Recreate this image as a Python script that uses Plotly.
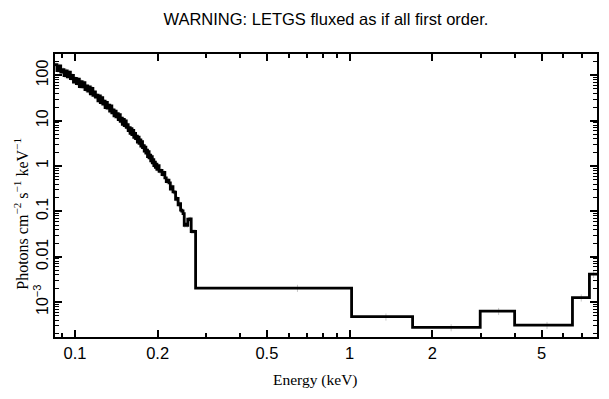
import math
import plotly.graph_objects as go

# Low-energy LETGS bins (keV edges) and fluxes (photons cm^-2 s^-1 keV^-1)
low_edges = [0.0845, 0.0860, 0.0875, 0.08875, 0.0900, 0.09125, 0.0925, 0.09375, 0.0950, 0.09625,
             0.0975, 0.09875, 0.1000, 0.10125, 0.1025, 0.10375, 0.1050, 0.10625, 0.1075, 0.10875,
             0.1100, 0.11125, 0.1125, 0.11375, 0.1150, 0.11625, 0.1175, 0.11875, 0.1200, 0.12125,
             0.1225, 0.12375, 0.1250, 0.12625, 0.1275, 0.12875, 0.1300, 0.13125, 0.1325, 0.13375,
             0.1350, 0.13625, 0.1375, 0.13875, 0.1400, 0.14125, 0.1425, 0.14375, 0.1450, 0.14625,
             0.1475, 0.14875, 0.1500, 0.15125, 0.1525, 0.15375, 0.1550, 0.15625, 0.1575, 0.15875,
             0.1600, 0.16125, 0.1625, 0.16375, 0.1650, 0.16625, 0.1675, 0.16875, 0.1700, 0.17125,
             0.1725, 0.17375, 0.1750, 0.17625, 0.1775, 0.17875, 0.1800, 0.18125, 0.1825, 0.18375,
             0.1850, 0.18625, 0.1875, 0.18875, 0.1900, 0.19125, 0.1925, 0.19375, 0.1950, 0.19625,
             0.1975, 0.19875, 0.2000, 0.2025, 0.2050, 0.2075, 0.2100, 0.2125, 0.2150, 0.2175,
             0.2200, 0.2225, 0.2250, 0.2275, 0.2300, 0.2325, 0.2350, 0.2375, 0.2400, 0.2425,
             0.2450, 0.2475, 0.2500, 0.2525, 0.2550, 0.2575, 0.2600, 0.2625, 0.2650, 0.2675,
             0.2700, 0.2725, 0.2750]
low_flux = [172.6, 126.8, 160.7, 118.0, 133.7, 98.2, 125.3, 92.0, 117.8, 84.5,
            99.1, 71.1, 85.1, 65.5, 82.2, 56.4, 72.4, 55.7, 68.9, 48.3,
            58.3, 44.9, 55.8, 39.2, 51.5, 36.1, 42.9, 33.0, 36.5, 27.4,
            35.0, 25.1, 32.1, 23.1, 26.9, 19.3, 25.3, 19.0, 22.1, 16.2,
            21.1, 14.8, 17.3, 12.7, 16.2, 12.2, 14.3, 10.5, 13.5, 9.66,
            11.3, 8.32, 10.6, 7.82, 9.91, 7.11, 8.22, 6.04, 6.98, 5.25,
            6.68, 4.91, 6.11, 4.29, 5.22, 4.02, 4.57, 3.36, 4.31, 3.16,
            3.75, 2.75, 3.45, 2.54, 2.82, 2.12, 2.61, 1.92, 2.25, 1.62,
            2.08, 1.52, 1.73, 1.30, 1.60, 1.18, 1.39, 1.02, 1.21, 0.931,
            1.10, 0.847,
            1.02, 0.767, 0.800, 0.649, 0.726, 0.546, 0.451, 0.491, 0.427, 0.308,
            0.353, 0.269, 0.265, 0.185, 0.192, 0.139, 0.148, 0.107, 0.102, 0.089,
            0.049, 0.052, 0.049, 0.067, 0.066, 0.068, 0.036, 0.036, 0.036, 0.036]

# High-energy wide bins
high_edges = [0.2750, 1.017, 1.696, 2.99, 3.99, 6.48, 7.47, 8.0]
high_flux = [2.04e-3, 4.76e-4, 2.76e-4, 6.3e-4, 3.1e-4, 1.25e-3, 4.15e-3]

x_tick_vals = [0.1, 0.2, 0.5, 1, 2, 5]
x_tick_text = ["0.1", "0.2", "0.5", "1", "2", "5"]
x_minor_vals = [0.09, 0.3, 0.4, 0.6, 0.7, 0.8, 0.9, 3, 4, 6, 7]
y_tick_vals = [100, 10, 1, 0.1, 0.01, 0.001]
y_tick_text = ["100", "10", "1", "0.1", "0.01", "10<sup>−3</sup>"]
y_minor_vals = [m * d for d in [1e-4, 1e-3, 1e-2, 1e-1, 1, 10, 100] for m in range(2, 10)]

edges = low_edges + high_edges[1:]
flux = low_flux + high_flux

step_x = edges
step_y = flux + [flux[-1]]

centers = [(a + b) / 2 for a, b in zip(edges[:-1], edges[1:])]
err = [v * (0.12 if c < 0.275 else 0.18) for c, v in zip(centers, flux)]

SANS = "Liberation Sans, Arial, sans-serif"
SERIF = "Liberation Serif, Times New Roman, serif"

fig = go.Figure()
fig.add_trace(go.Scatter(
    x=centers, y=flux, mode="markers",
    marker=dict(size=1, color="rgba(0,0,0,0)"),
    error_y=dict(type="data", array=err, color="#c8c8c8", thickness=1, width=0),
    hoverinfo="skip", showlegend=False))
fig.add_trace(go.Scatter(
    x=step_x, y=step_y, mode="lines", line=dict(shape="hv", color="black", width=2.8),
    showlegend=False))

# page has an 8px default body margin, so the figure is 8px smaller than the window
fig.update_layout(
    width=601, height=391,
    margin=dict(l=47, r=12, t=46, b=62, autoexpand=False),
    paper_bgcolor="white", plot_bgcolor="white",
    title=dict(text="WARNING: LETGS fluxed as if all first order.", x=0.529, xanchor="center",
               y=0.972, yanchor="middle",
               font=dict(family=SANS, size=16.5, color="black")),
    font=dict(family=SANS, size=16, color="black"),
    annotations=[
        dict(text="Energy (keV)", xref="paper", yref="paper", x=0.48, y=-0.152,
             xanchor="center", yanchor="middle", showarrow=False,
             font=dict(family=SERIF, size=15.5, color="black")),
        dict(text="Photons cm<sup>−2</sup> s<sup>−1</sup> keV<sup>−1</sup>", xref="paper", yref="paper",
             x=-0.063, y=0.435, xanchor="center", yanchor="middle", textangle=-90, showarrow=False,
             font=dict(family=SERIF, size=16, color="black")),
    ],
)
fig.update_xaxes(
    type="log", range=[math.log10(0.0846), math.log10(7.96)], automargin=False,
    tickvals=x_tick_vals, ticktext=x_tick_text,
    ticks="inside", ticklen=7, tickwidth=1.5, tickcolor="black",
    minor=dict(tickvals=x_minor_vals, ticks="inside", ticklen=4, tickwidth=1.5, tickcolor="black"),
    showline=True, linecolor="black", linewidth=2, mirror="ticks",
    showgrid=False, zeroline=False,
    tickfont=dict(family=SANS, size=16.5),
)
fig.update_yaxes(
    type="log", range=[-3.77, 2.47], automargin=False,
    tickvals=y_tick_vals, ticktext=y_tick_text, tickangle=-90, ticklabelstandoff=-1,
    ticks="inside", ticklen=7, tickwidth=1.5, tickcolor="black",
    minor=dict(tickvals=y_minor_vals, ticks="inside", ticklen=4, tickwidth=1, tickcolor="black"),
    showline=True, linecolor="black", linewidth=2, mirror="ticks",
    showgrid=False, zeroline=False,
    tickfont=dict(family=SANS, size=16),
)
fig.write_html("out.html")
